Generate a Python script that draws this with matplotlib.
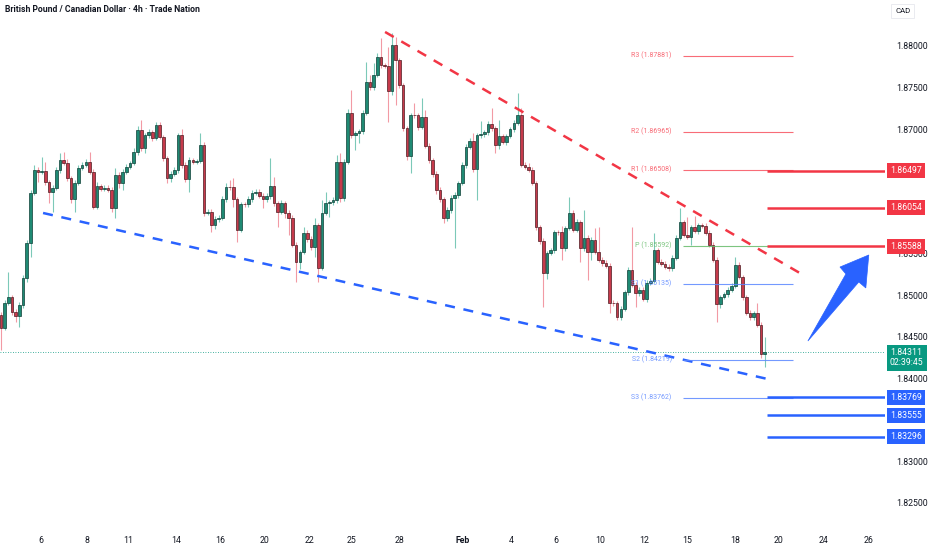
import numpy as np
import matplotlib.pyplot as plt
from matplotlib.patches import Polygon

TITLE = "British Pound / Canadian Dollar · 4h · Trade Nation"
CURRENCY = "CAD"

# 4h candles, oldest first (open of each bar = close of the previous bar)
FIRST_OPEN = 1.84761
CLOSES = [
    1.84604, 1.84905, 1.84977, 1.84797, 1.84748, 1.84881, 1.85206, 1.85628, 1.86230, 1.86507,
    1.86483, 1.86495, 1.86362, 1.86242, 1.86290, 1.86507, 1.86627, 1.86591, 1.86410, 1.86157,
    1.86350, 1.86531, 1.86567, 1.86603, 1.86483, 1.86061, 1.86314, 1.86278, 1.86290, 1.86266,
    1.86049, 1.86447, 1.86350, 1.86483, 1.86543, 1.86591, 1.86724, 1.86988, 1.86772, 1.86928,
    1.86964, 1.86892, 1.87049, 1.86904, 1.86651, 1.86410, 1.86459, 1.86507, 1.86928, 1.86567,
    1.86398, 1.86627, 1.86603, 1.86615, 1.86808, 1.85989, 1.86001, 1.85844, 1.85917, 1.85929,
    1.86157, 1.86302, 1.86298, 1.86157, 1.85784, 1.86097, 1.86092, 1.86157, 1.86230, 1.86242,
    1.86194, 1.86157, 1.86194, 1.86314, 1.86109, 1.86001, 1.86109, 1.85989, 1.85929, 1.85604,
    1.85399, 1.85519, 1.85748, 1.85676, 1.85579, 1.85844, 1.85327, 1.85989, 1.86109, 1.86121,
    1.86145, 1.86603, 1.86170, 1.86603, 1.87193, 1.86928, 1.86952, 1.86976, 1.87193, 1.87566,
    1.87506, 1.87651, 1.87868, 1.87771, 1.87765, 1.87458, 1.88012, 1.87831, 1.87530, 1.87012,
    1.86675, 1.87169, 1.87163, 1.87025, 1.87145, 1.86796, 1.86627, 1.86459, 1.86266, 1.86157,
    1.85929, 1.86025, 1.86170, 1.86206, 1.86350, 1.86567, 1.86784, 1.86856, 1.86519, 1.86928,
    1.86940, 1.86964, 1.87061, 1.87012, 1.86808, 1.86916, 1.86844, 1.86916, 1.87000, 1.87073,
    1.87169, 1.86567, 1.86543, 1.86507, 1.86350, 1.85820, 1.85652, 1.85266, 1.85507, 1.85543,
    1.85760, 1.85754, 1.85567, 1.85808, 1.85989, 1.85784, 1.85880, 1.85567, 1.85688, 1.85519,
    1.85664, 1.85519, 1.85423, 1.85387, 1.85351, 1.84905, 1.84899, 1.84736, 1.84833, 1.85037,
    1.85302, 1.85122, 1.85025, 1.85062, 1.84953, 1.85146, 1.85170, 1.85543, 1.85399, 1.85375,
    1.85339, 1.85327, 1.85447, 1.85688, 1.85880, 1.85724, 1.85700, 1.85820, 1.85772, 1.85844,
    1.85838, 1.85748, 1.85604, 1.85423, 1.84893, 1.84977, 1.85013, 1.85062, 1.85110, 1.85363,
    1.85218, 1.84977, 1.84785, 1.84736, 1.84780, 1.84640, 1.84291, 1.84311,
]
# wick lengths beyond the body, in pips
UPPER_WICK_PIPS = [
    3, 3, 30, 3, 3, 3, 4, 4, 4, 6,
    4, 17, 11, 3, 3, 4, 8, 10, 5, 3,
    4, 3, 4, 4, 12, 3, 5, 3, 3, 3,
    3, 8, 4, 3, 4, 3, 5, 5, 12, 3,
    4, 3, 4, 3, 3, 3, 3, 3, 3, 7,
    3, 4, 3, 3, 14, 3, 3, 3, 3, 3,
    4, 5, 8, 11, 3, 3, 3, 4, 4, 4,
    3, 3, 3, 34, 11, 3, 4, 3, 3, 3,
    3, 3, 7, 3, 3, 8, 3, 16, 13, 3,
    4, 8, 11, 4, 5, 28, 3, 3, 4, 24,
    8, 14, 5, 23, 3, 22, 14, 10, 3, 3,
    3, 3, 14, 3, 23, 8, 3, 3, 3, 3,
    3, 3, 3, 3, 3, 3, 3, 3, 10, 3,
    16, 3, 4, 19, 3, 19, 3, 3, 3, 3,
    26, 8, 4, 5, 3, 3, 3, 3, 3, 3,
    3, 3, 8, 3, 19, 4, 4, 3, 34, 3,
    3, 14, 30, 3, 4, 3, 3, 3, 3, 3,
    4, 52, 3, 3, 3, 3, 3, 20, 3, 3,
    3, 3, 3, 3, 17, 3, 22, 3, 13, 3,
    3, 3, 3, 3, 3, 3, 3, 3, 3, 10,
    3, 3, 3, 3, 3, 12, 3, 19,
]
LOWER_WICK_PIPS = [
    26, 3, 3, 4, 7, 13, 4, 5, 17, 3,
    12, 3, 4, 13, 24, 3, 4, 3, 4, 5,
    16, 3, 3, 3, 3, 3, 3, 3, 3, 3,
    5, 12, 6, 8, 3, 3, 3, 4, 4, 6,
    3, 4, 3, 3, 4, 6, 5, 3, 4, 4,
    4, 16, 3, 3, 3, 4, 3, 8, 5, 4,
    3, 3, 3, 10, 14, 3, 3, 3, 3, 3,
    3, 11, 3, 4, 4, 18, 3, 6, 20, 3,
    24, 8, 3, 4, 4, 12, 17, 3, 3, 17,
    3, 3, 5, 4, 3, 3, 18, 12, 3, 3,
    3, 3, 3, 3, 3, 37, 5, 54, 4, 4,
    5, 20, 3, 4, 3, 3, 4, 4, 5, 4,
    6, 4, 4, 60, 4, 3, 4, 3, 4, 37,
    3, 3, 3, 3, 10, 5, 3, 4, 3, 3,
    3, 3, 3, 3, 3, 4, 4, 41, 7, 3,
    3, 3, 14, 3, 3, 3, 3, 17, 3, 34,
    10, 3, 3, 4, 3, 12, 3, 4, 3, 3,
    3, 3, 17, 4, 3, 4, 3, 3, 3, 3,
    3, 4, 4, 3, 3, 3, 3, 10, 3, 4,
    3, 3, 3, 3, 22, 5, 3, 3, 3, 3,
    3, 4, 3, 3, 3, 3, 5, 16,
]
PIP = 0.0001

# date labels and the bar position (incl. future bars) where each day starts
DATE_LABELS = ["6", "8", "11", "14", "16", "20", "22", "25", "28", "Feb",
               "4", "6", "10", "12", "15", "18", "20", "24", "26"]
DATE_BARS = [10.7, 23.2, 34.4, 47.4, 59.4, 71.5, 83.5, 94.9, 107.9, 125.2,
             138.2, 150.4, 162.3, 174.3, 185.9, 198.9, 210.6, 223.0, 235.2]

PRICE_TICKS = [1.825, 1.830, 1.835, 1.840, 1.845, 1.850, 1.855, 1.860, 1.865, 1.870, 1.875, 1.880]

PIVOT_NAMES = ["R3", "R2", "R1", "P", "S1", "S2", "S3"]
PIVOT_LEVELS = [1.87881, 1.86965, 1.86508, 1.85592, 1.85135, 1.84219, 1.83762]
PIVOT_SPAN = (184.8, 214.6)

RESISTANCE = [1.86497, 1.86054, 1.85588]
SUPPORT = [1.83769, 1.83555, 1.83296]
LEVEL_START = 207.6
LAST_PRICE = 1.84311
COUNTDOWN = "02:39:45"

UPPER_TREND = [(104.1, 1.88169), (216.5, 1.85266)]
LOWER_TREND = [(11.4, 1.85989), (208.9, 1.83978)]
ARROW = [(218.7, 1.84447), (229.0, 1.85254), (227.4, 1.85338), (235.2, 1.85483),
         (234.4, 1.85086), (232.5, 1.85158)]

GREEN = "#1f8a74"
GREEN_EDGE = "#0f3f36"
GREEN_WICK = "#7cc9b8"
RED = "#c63a4b"
RED_EDGE = "#4d1b22"
RED_WICK = "#f29aa4"
TV_RED = "#f23645"
TV_BLUE = "#2962ff"
TV_GREEN = "#089981"
TEXT = "#131722"

assert len(CLOSES) == len(UPPER_WICK_PIPS) == len(LOWER_WICK_PIPS)

plt.rcParams["font.family"] = ["Roboto", "DejaVu Sans"]

closes = np.array(CLOSES)
opens = np.concatenate([[FIRST_OPEN], closes[:-1]])
highs = np.maximum(opens, closes) + np.array(UPPER_WICK_PIPS) * PIP
lows = np.minimum(opens, closes) - np.array(LOWER_WICK_PIPS) * PIP
idx = np.arange(len(closes))
rise = closes >= opens

fig = plt.figure(figsize=(9.32, 5.5), dpi=100)
ax = fig.add_axes([0, 22 / 550, 885 / 932, 528 / 550])
ax.set_xlim(-0.27, 239.6)
ax.set_ylim(1.82195, 1.88554)

# candles
ax.vlines(idx[rise], lows[rise], highs[rise], color=GREEN_WICK, lw=0.8, zorder=2)
ax.vlines(idx[~rise], lows[~rise], highs[~rise], color=RED_WICK, lw=0.8, zorder=2)
body = np.maximum(np.abs(closes - opens), 0.00002)
bottom = np.minimum(opens, closes)
ax.bar(idx[rise], body[rise], bottom=bottom[rise], width=0.72,
       color=GREEN, edgecolor=GREEN_EDGE, linewidth=0.5, zorder=3)
ax.bar(idx[~rise], body[~rise], bottom=bottom[~rise], width=0.72,
       color=RED, edgecolor=RED_EDGE, linewidth=0.5, zorder=3)

# trend lines
ax.plot(*zip(*UPPER_TREND), color=TV_RED, lw=1.8, ls=(0, (4, 3.5)), zorder=4)
ax.plot(*zip(*LOWER_TREND), color=TV_BLUE, lw=1.8, ls=(0, (4, 3.5)), zorder=4)

# pivot points
for name, level in zip(PIVOT_NAMES, PIVOT_LEVELS):
    if name.startswith("R"):
        col = "#f7525f"
    elif name == "P":
        col = "#66bb6a"
    else:
        col = "#5b87ff"
    ax.hlines(level, *PIVOT_SPAN, color=col, lw=0.8, alpha=0.85, zorder=4)
    ax.text(PIVOT_SPAN[0] - 3.0, level, f"{name} ({level:.5f})", color=col, alpha=0.85,
            fontsize=5, ha="right", va="center", zorder=5)

# current price
ax.axhline(LAST_PRICE, color=TV_GREEN, lw=0.6, ls=(0, (1, 2)), zorder=1)

# key levels and their price labels
ytr = ax.get_yaxis_transform()
for level in RESISTANCE:
    ax.hlines(level, LEVEL_START, 239.6, color=TV_RED, lw=1.8, zorder=4)
    ax.text(1.0056, level, f"{level:.5f}", transform=ytr, color="white", fontsize=6.3,
            ha="left", va="center", zorder=10, clip_on=False,
            bbox=dict(boxstyle="square,pad=0.35", fc=TV_RED, ec="none"))
for level in SUPPORT:
    ax.hlines(level, LEVEL_START, 239.6, color=TV_BLUE, lw=1.8, zorder=4)
    ax.text(1.0056, level, f"{level:.5f}", transform=ytr, color="white", fontsize=6.3,
            ha="left", va="center", zorder=10, clip_on=False,
            bbox=dict(boxstyle="square,pad=0.35", fc=TV_BLUE, ec="none"))
ax.text(1.0056, LAST_PRICE - 0.00068, f"{LAST_PRICE:.5f}\n{COUNTDOWN}", transform=ytr,
        color="white", fontsize=6.3, ha="left", va="center", linespacing=1.15,
        zorder=10, clip_on=False,
        bbox=dict(boxstyle="square,pad=0.35", fc=TV_GREEN, ec="none"))

# arrow
ax.add_patch(Polygon(ARROW, closed=True, fc=TV_BLUE, ec=TV_BLUE, lw=0.5, zorder=6))

# axes styling
for s in ax.spines.values():
    s.set_visible(False)
ax.yaxis.tick_right()
ax.set_yticks(PRICE_TICKS)
# like TradingView, price-scale labels hidden behind a level label are not shown
boxed = RESISTANCE + SUPPORT
ax.set_yticklabels(["" if min(abs(p - b) for b in boxed) < 0.0006 else f"{p:.5f}"
                    for p in PRICE_TICKS])
ax.tick_params(axis="y", length=0, pad=8, labelsize=6.3, labelcolor=TEXT)
ax.set_xticks(DATE_BARS)
ax.set_xticklabels(DATE_LABELS)
ax.tick_params(axis="x", length=0, pad=6, labelsize=6.3, labelcolor=TEXT)
for lab in ax.get_xticklabels():
    if lab.get_text() == "Feb":
        lab.set_fontweight("bold")

fig.text(5 / 932, 1 - 10 / 550, TITLE, fontsize=6.2, fontweight="bold", color=TEXT,
         ha="left", va="center", family=["Liberation Sans Narrow", "Roboto", "DejaVu Sans"])
fig.text(895 / 932, 1 - 11 / 550, CURRENCY, fontsize=5.6, color=TEXT, ha="left", va="center",
         bbox=dict(boxstyle="square,pad=0.5", fc="white", ec="#e6e8ee", lw=0.6))

fig.savefig("out.png", dpi=100, facecolor="white")
